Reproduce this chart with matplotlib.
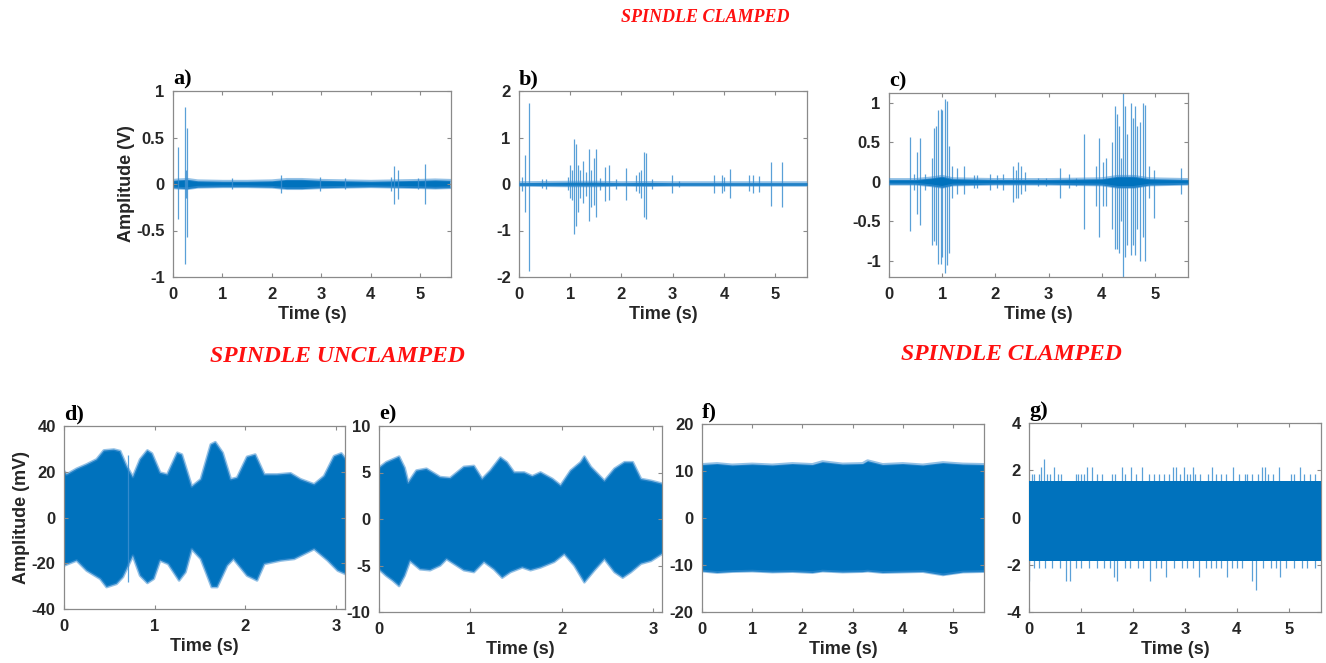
import numpy as np
import matplotlib.pyplot as plt

BLUE = '#0072BD'
SPIKE = '#3d8fd1'

# ---- panel a (V) : noise floor envelope + spikes (time, top, bottom)
A_ENV_T = [0, 0.1, 0.3, 0.5, 1.0, 1.5, 2.0, 2.3, 2.6, 3.0, 3.5, 4.0, 4.5, 5.0, 5.3, 5.6]
A_ENV_HI = [0.04, 0.045, 0.05, 0.035, 0.03, 0.03, 0.035, 0.05, 0.05, 0.04, 0.035, 0.03, 0.035, 0.04, 0.045, 0.04]
A_ENV_LO = [-0.04, -0.045, -0.05, -0.035, -0.03, -0.03, -0.035, -0.05, -0.05, -0.04, -0.035, -0.03, -0.035, -0.04, -0.045, -0.04]
A_SPK_T = [0.11, 0.24, 0.26, 0.28, 1.2, 2.18, 2.97, 3.48, 4.4, 4.46, 4.55, 4.95, 5.09]
A_SPK_HI = [0.40, 0.83, 0.15, 0.60, 0.06, 0.10, 0.07, 0.06, 0.08, 0.19, 0.15, 0.06, 0.22]
A_SPK_LO = [-0.38, -0.86, -0.15, -0.57, -0.05, -0.10, -0.07, -0.05, -0.08, -0.22, -0.16, -0.05, -0.22]

# ---- panel b (V)
B_ENV_T = [0, 1.0, 1.5, 2.0, 2.5, 3.0, 4.0, 5.0, 5.62]
B_ENV_HI = [0.03, 0.04, 0.04, 0.03, 0.035, 0.03, 0.03, 0.03, 0.03]
B_ENV_LO = [-0.03, -0.04, -0.04, -0.03, -0.035, -0.03, -0.03, -0.03, -0.03]
B_SPK_T = [0.06, 0.12, 0.19, 0.44, 0.53, 0.95, 1.0, 1.04, 1.07, 1.12, 1.16, 1.2, 1.25, 1.3,
           1.37, 1.41, 1.46, 1.5, 1.58, 1.67, 1.76, 1.9, 2.09, 2.29, 2.35, 2.39, 2.43, 2.48,
           2.6, 2.99, 3.12, 3.8, 3.97, 4.0, 4.12, 4.49, 4.56, 4.69, 4.92, 5.14]
B_SPK_HI = [0.15, 0.62, 1.75, 0.10, 0.10, 0.15, 0.40, 0.30, 0.97, 0.85, 0.40, 0.30, 0.50, 0.25,
            0.75, 0.30, 0.55, 0.75, 0.12, 0.37, 0.40, 0.10, 0.35, 0.20, 0.25, 0.30, 0.68, 0.67,
            0.10, 0.20, 0.06, 0.20, 0.20, 0.15, 0.33, 0.20, 0.20, 0.18, 0.48, 0.48]
B_SPK_LO = [-0.15, -0.60, -1.87, -0.08, -0.10, -0.12, -0.30, -0.35, -1.08, -0.90, -0.60, -0.30, -0.40, -0.25,
            -0.80, -0.50, -0.45, -0.70, -0.12, -0.37, -0.35, -0.10, -0.35, -0.15, -0.20, -0.30, -0.70, -0.75,
            -0.10, -0.20, -0.06, -0.20, -0.20, -0.15, -0.30, -0.15, -0.20, -0.18, -0.48, -0.50]

# ---- panel c (V)
C_ENV_T = [0, 0.5, 0.8, 1.0, 1.2, 2.0, 3.0, 4.0, 4.3, 4.6, 4.9, 5.62]
C_ENV_HI = [0.03, 0.03, 0.05, 0.07, 0.04, 0.03, 0.03, 0.04, 0.07, 0.07, 0.04, 0.03]
C_ENV_LO = [-0.03, -0.03, -0.05, -0.07, -0.04, -0.03, -0.03, -0.04, -0.07, -0.07, -0.04, -0.03]
C_SPK_T = [0.39, 0.47, 0.52, 0.59, 0.67, 0.81, 0.84, 0.89, 0.92, 0.97, 1.0, 1.05, 1.09, 1.13,
           1.18, 1.28, 1.41, 1.6, 1.66, 1.9, 2.03, 2.15, 2.33, 2.38, 2.43, 2.48, 2.55, 2.8,
           2.95, 3.21, 3.39, 3.52, 3.66, 3.89, 3.95, 4.02, 4.08, 4.2, 4.24, 4.28, 4.33, 4.36,
           4.4, 4.43, 4.48, 4.55, 4.59, 4.63, 4.67, 4.72, 4.77, 4.81, 4.88, 4.98, 5.48]
C_SPK_HI = [0.57, 0.10, 0.37, 0.55, 0.10, 0.30, 0.68, 0.70, 0.90, 0.92, 0.90, 1.05, 1.02, 0.45,
            0.20, 0.18, 0.20, 0.08, 0.08, 0.10, 0.08, 0.10, 0.20, 0.15, 0.25, 0.20, 0.12, 0.05,
            0.05, 0.17, 0.10, 0.05, 0.60, 0.20, 0.55, 0.25, 0.30, 0.50, 0.95, 0.85, 0.70, 0.30,
            1.12, 0.95, 0.60, 1.00, 0.80, 0.95, 0.70, 0.75, 1.00, 0.97, 0.20, 0.15, 0.17]
C_SPK_LO = [-0.62, -0.10, -0.40, -0.55, -0.10, -0.80, -0.75, -0.80, -1.03, -1.03, -0.95, -1.15, -1.05, -0.90,
            -0.20, -0.15, -0.15, -0.08, -0.08, -0.10, -0.08, -0.10, -0.25, -0.20, -0.20, -0.15, -0.12, -0.05,
            -0.05, -0.20, -0.08, -0.05, -0.60, -0.30, -0.70, -0.30, -0.30, -0.60, -0.85, -0.85, -0.90, -0.50,
            -1.20, -0.95, -0.80, -0.92, -0.80, -0.92, -0.60, -1.00, -0.70, -1.00, -0.20, -0.45, -0.15]

# ---- panel d (mV) envelope
D_UP_T = [0, 0.03, 0.14, 0.25, 0.36, 0.44, 0.55, 0.62, 0.69, 0.76, 0.84, 0.92, 0.97, 1.06, 1.14,
          1.25, 1.30, 1.41, 1.51, 1.62, 1.67, 1.75, 1.84, 1.91, 2.02, 2.11, 2.21, 2.35, 2.50,
          2.61, 2.76, 2.87, 2.98, 3.06, 3.1]
D_UP_V = [20.3, 18.8, 21.3, 23.2, 25.4, 29.3, 29.7, 29.0, 22.5, 17.7, 25.4, 29.3, 28.0, 19.6, 18.8,
          28.3, 27.5, 13.5, 16.7, 31.9, 32.9, 28.3, 16.7, 17.4, 26.5, 27.5, 18.8, 18.8, 19.3,
          16.7, 14.5, 18.1, 26.8, 28.0, 26.0]
D_LO_T = [0, 0.14, 0.25, 0.40, 0.47, 0.58, 0.65, 0.76, 0.84, 0.92, 0.99, 1.06, 1.15, 1.27, 1.34,
          1.41, 1.51, 1.63, 1.69, 1.80, 1.87, 2.02, 2.13, 2.21, 2.39, 2.54, 2.76, 2.91, 3.02, 3.1]
D_LO_V = [-21.0, -18.8, -23.2, -26.8, -30.4, -29.0, -26.0, -16.7, -25.4, -28.6, -26.8, -18.8, -20.3,
          -27.5, -23.9, -13.8, -18.1, -30.4, -30.4, -21.0, -18.1, -25.4, -27.5, -20.3, -18.8, -18.1,
          -13.8, -18.8, -23.2, -24.6]
D_SPK_T = [0.71]
D_SPK_HI = [27.5]
D_SPK_LO = [-28.0]

# ---- panel e (mV) envelope
E_UP_T = [0, 0.08, 0.15, 0.22, 0.28, 0.32, 0.41, 0.52, 0.67, 0.78, 0.93, 1.04, 1.13, 1.22, 1.33,
          1.40, 1.48, 1.59, 1.68, 1.77, 1.90, 1.99, 2.10, 2.21, 2.25, 2.32, 2.47, 2.58, 2.69,
          2.78, 2.87, 2.98, 3.1]
E_UP_V = [5.5, 6.1, 6.4, 6.7, 5.5, 3.9, 5.2, 5.4, 4.5, 4.4, 5.6, 5.7, 4.3, 5.2, 6.6,
          6.1, 5.0, 5.0, 4.6, 5.0, 4.3, 3.6, 5.2, 6.1, 6.7, 5.6, 4.1, 5.4, 6.1,
          6.1, 4.3, 4.1, 3.8]
E_LO_T = [0, 0.08, 0.15, 0.22, 0.28, 0.34, 0.45, 0.56, 0.67, 0.74, 0.93, 1.04, 1.15, 1.26, 1.35,
          1.44, 1.57, 1.66, 1.77, 1.92, 2.03, 2.14, 2.25, 2.36, 2.47, 2.58, 2.67, 2.76, 2.87,
          2.98, 3.1]
E_LO_V = [-5.4, -6.1, -6.6, -7.2, -6.1, -4.5, -5.4, -5.5, -5.0, -4.3, -5.5, -5.7, -4.6, -5.4, -6.3,
          -5.7, -5.2, -5.5, -5.2, -4.6, -3.75, -5.0, -6.8, -5.5, -4.3, -5.7, -6.3, -5.7, -4.8,
          -4.5, -3.75]

# ---- panel f (mV) envelope
F_T = [0, 0.3, 0.6, 1.0, 1.4, 1.8, 2.2, 2.4, 2.8, 3.2, 3.3, 3.6, 4.0, 4.4, 4.8, 5.2, 5.62]
F_UP = [11.4, 11.6, 11.3, 11.5, 11.3, 11.6, 11.4, 12.0, 11.5, 11.6, 12.2, 11.4, 11.6, 11.3, 11.8, 11.5, 11.4]
F_LO = [-11.3, -11.6, -11.4, -11.3, -11.5, -11.4, -11.6, -11.3, -11.5, -11.4, -11.3, -11.6, -11.5, -11.4, -12.1, -11.5, -11.4]

# ---- panel g (mV) core band + spikes
G_T = [0, 5.62]
G_UP = [1.55, 1.55]
G_LO = [-1.85, -1.85]
G_UP_SPK_T = [0.05, 0.1, 0.2, 0.24, 0.29, 0.35, 0.4, 0.48, 0.55, 0.62, 0.9, 0.95, 1.0, 1.05, 1.12,
              1.21, 1.3, 1.4, 1.6, 1.65, 1.79, 1.85, 1.97, 2.05, 2.17, 2.3, 2.4, 2.5, 2.6, 2.7,
              2.78, 2.83, 2.9, 2.98, 3.05, 3.1, 3.15, 3.2, 3.3, 3.45, 3.53, 3.6, 3.7, 3.8, 3.93,
              4.05, 4.15, 4.2, 4.3, 4.4, 4.48, 4.54, 4.6, 4.7, 4.82, 5.05, 5.1, 5.22, 5.3, 5.4, 5.5]
G_UP_SPK_V = [1.85, 1.85, 1.85, 2.15, 2.47, 1.85, 1.85, 2.15, 1.85, 1.85, 1.85, 1.85, 1.85, 1.85, 2.15,
              2.15, 1.85, 1.85, 1.85, 1.85, 2.15, 1.85, 2.15, 1.85, 2.15, 1.85, 1.85, 1.85, 1.85, 1.85,
              2.15, 2.15, 1.85, 2.15, 1.85, 1.85, 2.15, 1.85, 1.85, 1.85, 2.15, 1.85, 1.85, 1.85, 2.15,
              1.85, 1.85, 1.85, 1.85, 1.85, 2.15, 2.15, 1.85, 1.85, 2.15, 1.85, 1.85, 2.15, 1.85, 1.85, 1.85]
G_LO_SPK_T = [0.0, 0.1, 0.2, 0.3, 0.45, 0.6, 0.71, 0.79, 0.9, 1.0, 1.15, 1.3, 1.45, 1.55, 1.64,
              1.7, 1.85, 1.95, 2.1, 2.2, 2.32, 2.45, 2.55, 2.64, 2.8, 2.95, 3.05, 3.15, 3.28, 3.4,
              3.5, 3.6, 3.7, 3.82, 3.9, 4.0, 4.1, 4.3, 4.37, 4.5, 4.65, 4.75, 4.84, 4.95, 5.1,
              5.25, 5.35, 5.5]
G_LO_SPK_V = [-2.7, -2.15, -2.15, -2.15, -2.15, -2.15, -2.7, -2.7, -2.15, -2.15, -2.15, -2.15, -2.15, -2.15, -2.5,
              -2.7, -2.15, -2.15, -2.15, -2.15, -2.7, -2.15, -2.15, -2.5, -2.15, -2.15, -2.15, -2.15, -2.5, -2.15,
              -2.15, -2.15, -2.15, -2.5, -2.15, -2.15, -2.15, -2.7, -3.07, -2.15, -2.15, -2.15, -2.5, -2.15, -2.15,
              -2.15, -2.15, -2.15]

TICK_FONT = dict(family='Liberation Sans', weight='bold', size=12)
LABEL_FONT = dict(family='Liberation Sans', weight='bold', size=13)
PANEL_FONT = dict(family='Liberation Serif', weight='bold', size=16)
TITLE_FONT = dict(family='Liberation Serif', weight='bold', style='italic', color='#ff1010')

W, H = 1326, 663


def make_axes(fig, left, right, top, bottom):
    ax = fig.add_axes([left / W, (H - bottom) / H, (right - left) / W, (bottom - top) / H])
    for s in ax.spines.values():
        s.set_color('#8a8a8a')
        s.set_linewidth(0.9)
    ax.tick_params(direction='in', length=3, top=True, right=True, color='#8a8a8a',
                   labelcolor='#262626')
    ax.tick_params(axis='x', pad=7)
    ax.tick_params(axis='y', pad=6)
    return ax


def style(ax, xlim, ylim, yticks, letter, ylabel=None, xticks=None):
    ax.set_xlim(*xlim)
    ax.set_ylim(*ylim)
    ax.set_yticks(yticks)
    ax.set_yticklabels([f'{v:g}' for v in yticks], fontdict=TICK_FONT)
    if xticks is None:
        xticks = list(range(int(xlim[1]) + 1))
    ax.set_xticks(xticks)
    ax.set_xticklabels([str(v) for v in xticks], fontdict=TICK_FONT)
    ax.set_xlabel('Time (s)', fontdict=LABEL_FONT, labelpad=3, color='#262626')
    if ylabel:
        ax.set_ylabel(ylabel, fontdict=LABEL_FONT, labelpad=1, color='#262626')
    ax.text(0.0, 1.01, letter, transform=ax.transAxes, ha='left', va='bottom', **PANEL_FONT)


def band(ax, t, hi, lo, t2=None, z=1):
    if t2 is None:
        ax.fill_between(t, lo, hi, color=BLUE, lw=0, zorder=z)
    else:
        # separate sample times for upper and lower envelopes
        ax.fill(list(t) + list(t2)[::-1], list(hi) + list(lo)[::-1], color=BLUE, lw=0, zorder=z)
    ax.plot(t, hi, color=SPIKE, lw=2.0, alpha=0.55, zorder=z)
    ax.plot(t if t2 is None else t2, lo, color=SPIKE, lw=2.0, alpha=0.55, zorder=z)


def spikes(ax, t, hi, lo):
    ax.vlines(t, lo, hi, color=SPIKE, lw=0.9, alpha=0.85, zorder=2)


fig = plt.figure(figsize=(W / 100, H / 100), dpi=100)

ax = make_axes(fig, 173, 451, 91, 277)
band(ax, A_ENV_T, A_ENV_HI, A_ENV_LO)
spikes(ax, A_SPK_T, A_SPK_HI, A_SPK_LO)
style(ax, (0, 5.62), (-1, 1), [-1, -0.5, 0, 0.5, 1], 'a)', 'Amplitude (V)')

ax = make_axes(fig, 519, 807, 91, 277)
spikes(ax, B_SPK_T, B_SPK_HI, B_SPK_LO)
band(ax, B_ENV_T, B_ENV_HI, B_ENV_LO, z=3)
style(ax, (0, 5.62), (-2, 2), [-2, -1, 0, 1, 2], 'b)')

ax = make_axes(fig, 889, 1188, 93, 277)
spikes(ax, C_SPK_T, C_SPK_HI, C_SPK_LO)
band(ax, C_ENV_T, C_ENV_HI, C_ENV_LO, z=3)
style(ax, (0, 5.62), (-1.2, 1.12), [-1, -0.5, 0, 0.5, 1], 'c)')

ax = make_axes(fig, 64, 345, 426, 609)
band(ax, D_UP_T, D_UP_V, D_LO_V, D_LO_T)
spikes(ax, D_SPK_T, D_SPK_HI, D_SPK_LO)
style(ax, (0, 3.1), (-40, 40), [-40, -20, 0, 20, 40], 'd)', 'Amplitude (mV)')

ax = make_axes(fig, 379, 662, 426, 612)
band(ax, E_UP_T, E_UP_V, E_LO_V, E_LO_T)
style(ax, (0, 3.1), (-10, 10), [-10, -5, 0, 5, 10], 'e)')

ax = make_axes(fig, 702, 984, 424, 612)
band(ax, F_T, F_UP, F_LO)
style(ax, (0, 5.62), (-20, 20), [-20, -10, 0, 10, 20], 'f)')

ax = make_axes(fig, 1029, 1321, 423, 612)
spikes(ax, G_UP_SPK_T, G_UP_SPK_V, [0] * len(G_UP_SPK_T))
spikes(ax, G_LO_SPK_T, [0] * len(G_LO_SPK_T), G_LO_SPK_V)
ax.fill_between(G_T, G_LO, G_UP, color=BLUE, lw=0, zorder=3)
style(ax, (0, 5.62), (-4, 4), [-4, -2, 0, 2, 4], 'g)')

fig.text(705 / W, 1 - 18 / H, 'SPINDLE CLAMPED', ha='center', va='center', size=13, **TITLE_FONT)
fig.text(337 / W, 1 - 357 / H, 'SPINDLE UNCLAMPED', ha='center', va='center', size=17, **TITLE_FONT)
fig.text(1011 / W, 1 - 355 / H, 'SPINDLE CLAMPED', ha='center', va='center', size=17, **TITLE_FONT)

fig.savefig('out.png', dpi=100, facecolor='white')
